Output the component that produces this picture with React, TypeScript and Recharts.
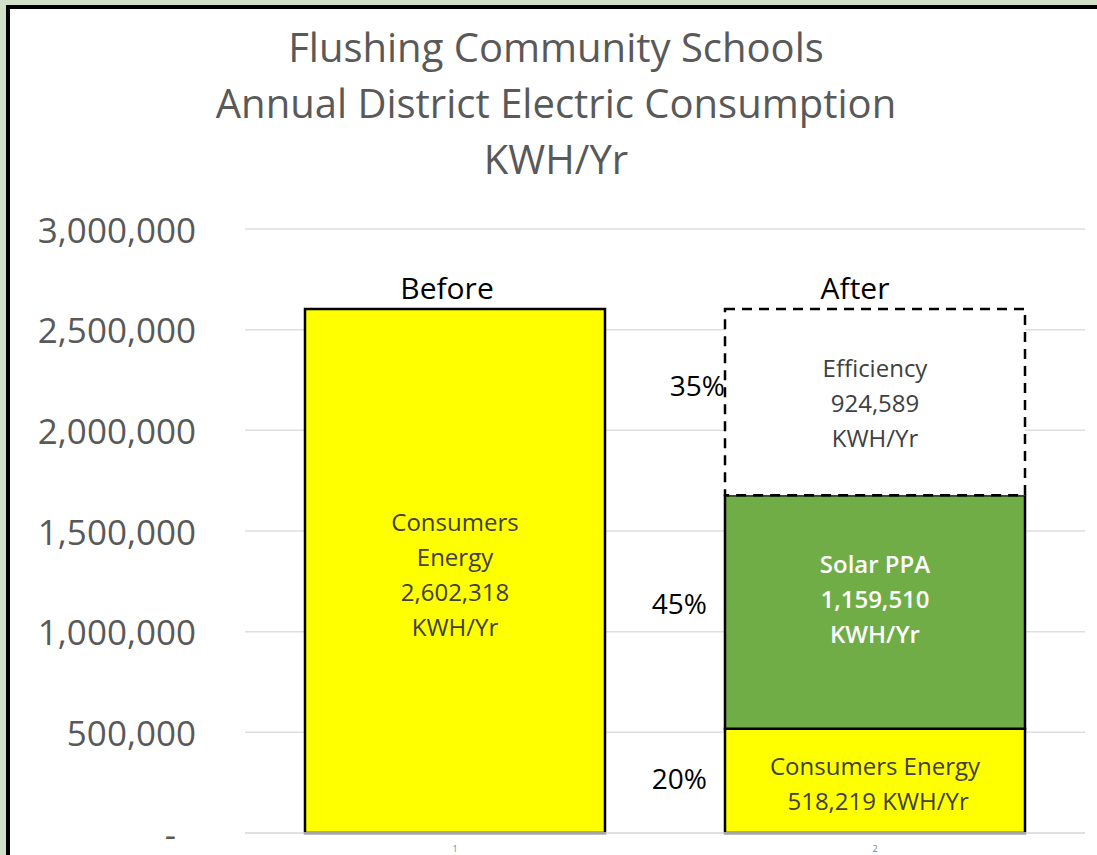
import { BarChart, Bar, XAxis, YAxis, CartesianGrid, LabelList } from 'recharts'

const categories = ['1', '2']
const consumersKwh = [2602318, 518219]
const solarKwh = [0, 1159510]
const efficiencyKwh = [0, 924589]
const yTicks = [0, 500000, 1000000, 1500000, 2000000, 2500000, 3000000]

const titleLines = ['Flushing Community Schools', 'Annual District Electric Consumption', 'KWH/Yr']
const columnNames = ['Before', 'After']
const consumersText = [['Consumers', 'Energy', '2,602,318', 'KWH/Yr'], ['Consumers Energy', '\u00a0518,219 KWH/Yr']]
const solarText = [[], ['Solar PPA', '1,159,510', 'KWH/Yr']]
const efficiencyText = [[], ['Efficiency', '924,589', 'KWH/Yr']]
const consumersPct = ['', '20%']
const solarPct = ['', '45%']
const efficiencyPct = ['', '35%']

const data = categories.map((c, i) => ({
  name: c,
  consumers: consumersKwh[i],
  solar: solarKwh[i],
  efficiency: efficiencyKwh[i],
}))

const seriesValues: Record<string, number[]> = {
  consumers: consumersKwh,
  solar: solarKwh,
  efficiency: efficiencyKwh,
}

const FONT = '"Open Sans", sans-serif'

function topSeries(i: number) {
  if (efficiencyKwh[i] > 0) return 'efficiency'
  if (solarKwh[i] > 0) return 'solar'
  return 'consumers'
}

// zero-height segments are skipped, so find the category from the value itself
function categoryOf(series: string, value: any) {
  const v = Array.isArray(value) ? value[1] - value[0] : Number(value)
  return seriesValues[series].indexOf(v)
}

function makeLabel(series: string, lines: string[][], pct: string[], color: string, weight: number, pctDx: number, pctDy: number, textDy: number) {
  return (props: any) => {
    const { x, y, width, height, value } = props
    if (!height) return null
    const index = categoryOf(series, value)
    if (index < 0) return null
    const cx = x + width / 2
    const cy = y + height / 2 + textDy
    const ls = lines[index] || []
    const lh = 35
    const startY = cy - ((ls.length - 1) * lh) / 2
    return (
      <g>
        {ls.length > 0 && (
          <text x={cx} y={startY} textAnchor="middle" dominantBaseline="central" fill={color} fontSize={24} fontWeight={weight} fontFamily={FONT}>
            {ls.map((l, k) => (
              <tspan key={k} x={cx} y={startY + k * lh}>{l}</tspan>
            ))}
          </text>
        )}
        {pct[index] && (
          <text x={x + pctDx} y={y + height / 2 + pctDy} textAnchor="end" dominantBaseline="central" fill="#000" fontSize={28} fontFamily={FONT}>
            {pct[index]}
          </text>
        )}
        {topSeries(index) === series && (
          <text x={cx + (index === 0 ? -8 : -20)} y={y - 10} textAnchor="middle" fill="#000" fontSize={30} fontFamily={FONT}>
            {columnNames[index]}
          </text>
        )}
      </g>
    )
  }
}

function YTick(props: any) {
  const { x, y, payload } = props
  const v = payload.value
  const txt = v === 0 ? '-' : v.toLocaleString('en-US')
  return (
    <text x={v === 0 ? x - 20 : x} y={y} textAnchor="end" dominantBaseline="central" fill="#595959" fontSize={35} fontFamily={FONT}>
      {txt}
    </text>
  )
}

export default function App() {
  return (
    <div style={{ position: 'fixed', left: 0, top: 0, width: 1097, height: 855, overflow: 'hidden', background: '#d3e0c9' }}>
      <div style={{ position: 'absolute', left: 6, top: 5, width: 1200, height: 1000, background: '#fff', border: '4px solid #000', boxSizing: 'border-box' }} />
      <div style={{ position: 'absolute', left: 0, top: 0 }}>
        <BarChart width={1097} height={855} data={data} margin={{ top: 229, right: 12, bottom: 2, left: 0 }} barSize={300}>
          <CartesianGrid vertical={false} stroke="#dedede" strokeWidth={1.5} />
          <XAxis dataKey="name" axisLine={{ stroke: '#dedede', strokeWidth: 1.5 }} tickLine={false} tickSize={0} tickMargin={13} height={20} tick={{ fill: '#808080', fontSize: 9, fontFamily: FONT }} />
          <YAxis domain={[0, 3000000]} ticks={yTicks} axisLine={false} tickLine={false} tickSize={0} tickMargin={49} width={245} tick={<YTick />} />
          <Bar dataKey="consumers" stackId="a" fill="#ffff00" stroke="#000" strokeWidth={2.5} isAnimationActive={false}>
            <LabelList dataKey="consumers" content={makeLabel('consumers', consumersText, consumersPct, '#404040', 400, -18, -3, 2)} />
          </Bar>
          <Bar dataKey="solar" stackId="a" fill="#70ad47" stroke="#000" strokeWidth={2.5} isAnimationActive={false}>
            <LabelList dataKey="solar" content={makeLabel('solar', solarText, solarPct, '#ffffff', 600, -18, -9, -14)} />
          </Bar>
          <Bar dataKey="efficiency" stackId="a" fill="#ffffff" stroke="#000" strokeWidth={2.5} strokeDasharray="10 7" isAnimationActive={false}>
            <LabelList dataKey="efficiency" content={makeLabel('efficiency', efficiencyText, efficiencyPct, '#404040', 400, 0, -17, 0)} />
          </Bar>
        </BarChart>
      </div>
      <div style={{ position: 'absolute', left: 0, top: 19, width: 1112, textAlign: 'center', fontFamily: FONT, fontSize: 40, lineHeight: '56px', color: '#595959' }}>
        {titleLines.map((t) => (
          <div key={t}>{t}</div>
        ))}
      </div>
    </div>
  )
}
